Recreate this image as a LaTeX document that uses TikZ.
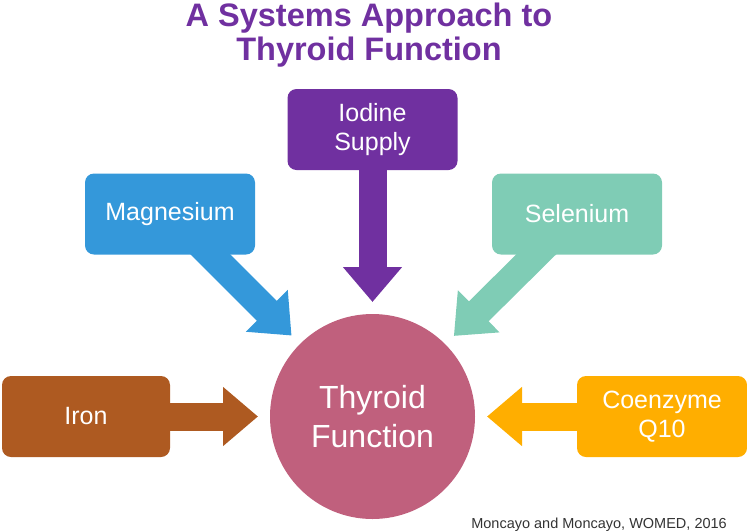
\documentclass[tikz,border=0pt]{standalone}
\usepackage{fontspec}
\setmainfont{Liberation Sans}
\usetikzlibrary{arrows.meta,backgrounds}
\definecolor{titlepurple}{HTML}{7030A0}
\definecolor{iodpurple}{HTML}{7030A0}
\definecolor{mgblue}{HTML}{3498DA}
\definecolor{segreen}{HTML}{7FCCB5}
\definecolor{ironbrown}{HTML}{AE5A21}
\definecolor{coqorange}{HTML}{FFAE00}
\definecolor{thyroidpink}{HTML}{C0607D}

\begin{document}
\begin{tikzpicture}[x=1pt,y=-1pt,
  factor/.style={rounded corners=9pt, minimum width=170pt, minimum height=81pt,
    inner sep=0pt, text=white, align=center, font=\fontsize{25}{29}\selectfont},
  feed/.style={line width=28pt, -{Triangle[width=57pt,length=35pt]}, shorten >=12pt}]
  % pixel grid of the slide, y pointing down
  \useasboundingbox (0,0) rectangle (747,531);

  % ---------- title ----------
  \node[text=titlepurple, inner sep=0pt, align=center,
        font=\fontsize{32.5}{34}\selectfont\bfseries] (title) at (369,35)
    {A Systems Approach to\\Thyroid Function};

  % ---------- centre ----------
  \node[circle, fill=thyroidpink, minimum size=205pt, inner sep=0pt, outer sep=0pt,
        text=white, align=center, font=\fontsize{32}{39}\selectfont] (thy) at (372.5,416.5)
    {Thyroid\\Function};

  % ---------- nutrients ----------
  \node[factor, fill=iodpurple] (iod) at (372.5,129.5) {Iodine\\Supply};
  \node[factor, fill=mgblue]    (mg)  at (170,214)     {Magnesium};
  \node[factor, fill=segreen]   (se)  at (577,214)     {Selenium};
  \node[factor, fill=ironbrown, minimum width=168pt] (fe) at (86,416.5) {Iron};
  \node[factor, fill=coqorange] (coq) at (662,416.5)   {Coenzyme\\Q10};

  % ---------- block arrows, behind the boxes ----------
  \begin{scope}[on background layer]
    \draw[feed, iodpurple] (iod.center) -- (thy);
    \draw[feed, mgblue]    (mg.center)  -- (thy);
    \draw[feed, segreen]   (se.center)  -- (thy);
    \draw[feed, ironbrown] (fe.center)  -- (thy);
    \draw[feed, coqorange] (coq.center) -- (thy);
  \end{scope}

  % ---------- source ----------
  \node[anchor=base east, inner sep=0pt, text=black!80, font=\fontsize{14.5}{16}\selectfont]
    (src) at (727,528) {Moncayo and Moncayo, WOMED, 2016};
\end{tikzpicture}
\end{document}
